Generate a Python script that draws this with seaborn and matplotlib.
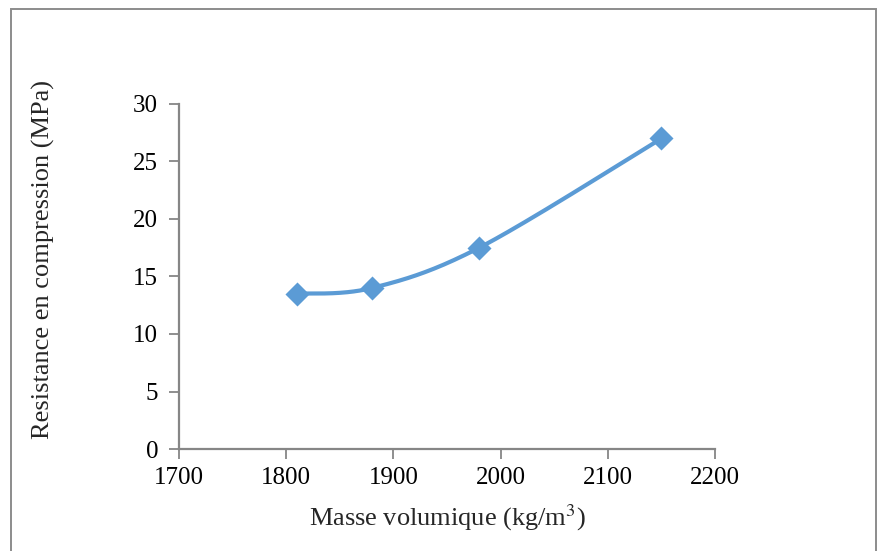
import numpy as np
import pandas as pd
import matplotlib
matplotlib.use("Agg")
import matplotlib.pyplot as plt
from matplotlib.patches import Rectangle
import seaborn as sns

# Density vs compressive strength
masse_volumique = [1810, 1880, 1980, 2150]
resistance = [13.5, 14.0, 17.5, 27.0]
x_ticks = [1700, 1800, 1900, 2000, 2100, 2200]
y_ticks = [0, 5, 10, 15, 20, 25, 30]

BLUE = "#5B9BD5"
GRAY = "#868686"


def smooth_curve(xs, ys, n=60):
    """Cardinal (Catmull-Rom style) Bezier smoothing through the points."""
    pts = np.column_stack([xs, ys]).astype(float)
    ext = np.vstack([pts[0], pts, pts[-1]])
    out = []
    for i in range(1, len(ext) - 2):
        p0, p1, p2, p3 = ext[i - 1], ext[i], ext[i + 1], ext[i + 2]
        c1 = p1 + (p2 - p0) / 6.0
        c2 = p2 - (p3 - p1) / 6.0
        t = np.linspace(0, 1, n)[:, None]
        seg = ((1 - t) ** 3) * p1 + 3 * ((1 - t) ** 2) * t * c1 \
            + 3 * (1 - t) * t ** 2 * c2 + t ** 3 * p2
        out.append(seg if i == 1 else seg[1:])
    return np.vstack(out)


sns.set_style("white")
plt.rcParams["font.family"] = ["Liberation Serif", "DejaVu Serif"]
plt.rcParams["mathtext.fontset"] = "stix"

fig = plt.figure(figsize=(8.78, 5.51), dpi=100)
ax = fig.add_axes([0.2039, 0.1851, 0.6105, 0.6262])

curve = smooth_curve(masse_volumique, resistance)
curve_df = pd.DataFrame({"x": curve[:, 0], "y": curve[:, 1]})
pts_df = pd.DataFrame({"x": masse_volumique, "y": resistance})

sns.lineplot(data=curve_df, x="x", y="y", ax=ax, color=BLUE, lw=3,
             sort=False, estimator=None)
sns.scatterplot(data=pts_df, x="x", y="y", ax=ax, color=BLUE, marker="D",
                s=150, edgecolor=BLUE, linewidth=0, zorder=3)

ax.set_xlim(1700, 2200)
ax.set_ylim(0, 30)
ax.set_xticks(x_ticks)
ax.set_yticks(y_ticks)
ax.tick_params(axis="both", labelsize=18, colors=GRAY, labelcolor="black",
               length=7, width=1.3, direction="out", bottom=True, left=True)
ax.tick_params(axis="x", pad=6)
ax.tick_params(axis="y", pad=8)

for side in ["top", "right"]:
    ax.spines[side].set_visible(False)
for side in ["left", "bottom"]:
    ax.spines[side].set_color(GRAY)
    ax.spines[side].set_linewidth(1.6)

ax.set_xlabel("Masse volumique (kg/m$^{3}$)", fontsize=19, labelpad=10)
ax.set_ylabel("Resistance en compression (MPa)", fontsize=19)
ax.yaxis.set_label_coords(-0.231, 0.548)

# Outer chart frame
fig.patches.append(Rectangle((11 / 878, -0.01), 865.5 / 878, 1.01 - 9 / 551,
                             transform=fig.transFigure, fill=False,
                             edgecolor="#8c8c8c", linewidth=1.4))

fig.savefig("out.png", dpi=100)
